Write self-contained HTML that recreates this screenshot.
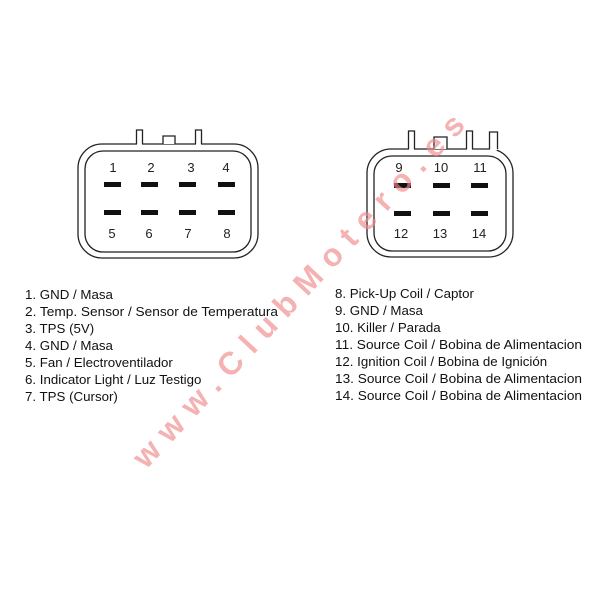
<!DOCTYPE html>
<html><head><meta charset="utf-8"><style>
html,body{margin:0;padding:0;background:#fff;}
svg{display:block;}
text{font-family:"Liberation Sans",Arial,sans-serif;}
</style></head><body>
<svg width="600" height="600" viewBox="0 0 600 600" xmlns="http://www.w3.org/2000/svg">
<rect width="600" height="600" fill="#fff"/>
<g fill="none" stroke="#222" stroke-width="1.3">
  <rect x="78" y="144" width="180" height="114" rx="24"/>
  <rect x="85" y="151" width="166" height="101" rx="18"/>
  <rect x="367" y="149" width="146" height="108" rx="24"/>
  <rect x="374" y="156" width="132" height="95" rx="18"/>
</g>
<g stroke="#222" stroke-width="1.3">
  <line x1="137" y1="144" x2="142" y2="144" stroke="#fff" stroke-width="3"/>
  <path d="M136.5,144 V130 H142.5 V144" fill="#fff"/>
  <line x1="196" y1="144" x2="201" y2="144" stroke="#fff" stroke-width="3"/>
  <path d="M195.5,144 V130 H201.5 V144" fill="#fff"/>
  <path d="M163,144 V136 H175 V144" fill="#fff"/>
  <line x1="409" y1="149" x2="414" y2="149" stroke="#fff" stroke-width="3"/>
  <path d="M408.5,149 V131 H414.5 V149" fill="#fff"/>
  <path d="M434,149 V137 H447 V149" fill="#fff"/>
  <line x1="467" y1="149" x2="472" y2="149" stroke="#fff" stroke-width="3"/>
  <path d="M466.5,149 V131 H472.5 V149" fill="#fff"/>
  <line x1="490" y1="149" x2="497" y2="149" stroke="#fff" stroke-width="3"/>
  <path d="M489.5,149 V132 H497.5 V149" fill="#fff"/>
</g>
<g fill="#111">
  <rect x="104" y="182" width="17" height="5"/><rect x="141" y="182" width="17" height="5"/>
  <rect x="179" y="182" width="17" height="5"/><rect x="218" y="182" width="17" height="5"/>
  <rect x="104" y="210" width="17" height="5"/><rect x="141" y="210" width="17" height="5"/>
  <rect x="179" y="210" width="17" height="5"/><rect x="218" y="210" width="17" height="5"/>
  <rect x="394" y="183" width="17" height="5"/><rect x="433" y="183" width="17" height="5"/>
  <rect x="471" y="183" width="17" height="5"/>
  <rect x="394" y="211" width="17" height="5"/><rect x="433" y="211" width="17" height="5"/>
  <rect x="471" y="211" width="17" height="5"/>
</g>
<g font-size="13" fill="#222" text-anchor="middle">
  <text x="113" y="172">1</text><text x="151" y="172">2</text><text x="191" y="172">3</text><text x="226" y="172">4</text>
  <text x="112" y="238">5</text><text x="149" y="238">6</text><text x="188" y="238">7</text><text x="227" y="238">8</text>
  <text x="399" y="172">9</text><text x="441" y="172">10</text><text x="480" y="172">11</text>
  <text x="401" y="238">12</text><text x="440" y="238">13</text><text x="479" y="238">14</text>
</g>
<text x="0" y="0" transform="translate(146,470) rotate(-47)" font-size="32" font-weight="bold" fill="#f08888" fill-opacity="0.65" textLength="470" lengthAdjust="spacing">www.ClubMotero.es</text>
<g font-size="13.3" fill="#111">
  <text x="25" y="299">1. GND / Masa</text>
  <text x="25" y="316" textLength="253" lengthAdjust="spacingAndGlyphs">2. Temp. Sensor / Sensor de Temperatura</text>
  <text x="25" y="333">3. TPS (5V)</text>
  <text x="25" y="350">4. GND / Masa</text>
  <text x="25" y="367">5. Fan / Electroventilador</text>
  <text x="25" y="384">6. Indicator Light / Luz Testigo</text>
  <text x="25" y="401">7. TPS (Cursor)</text>
  <text x="335" y="298">8. Pick-Up Coil / Captor</text>
  <text x="335" y="315">9. GND / Masa</text>
  <text x="335" y="332">10. Killer / Parada</text>
  <text x="335" y="349" textLength="247" lengthAdjust="spacingAndGlyphs">11. Source Coil / Bobina de Alimentacion</text>
  <text x="335" y="366">12. Ignition Coil / Bobina de Ignición</text>
  <text x="335" y="383" textLength="247" lengthAdjust="spacingAndGlyphs">13. Source Coil / Bobina de Alimentacion</text>
  <text x="335" y="400" textLength="247" lengthAdjust="spacingAndGlyphs">14. Source Coil / Bobina de Alimentacion</text>
</g>
</svg>
</body></html>
